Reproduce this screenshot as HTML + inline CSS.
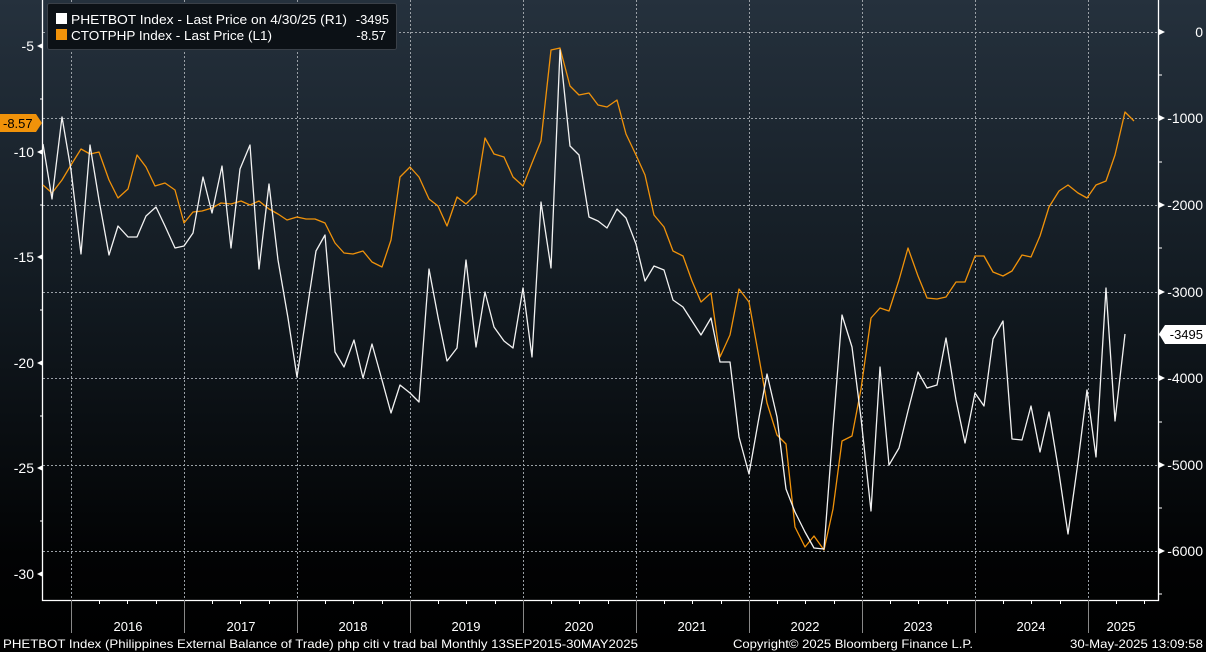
<!DOCTYPE html>
<html><head><meta charset="utf-8"><style>
html,body{margin:0;padding:0;background:#000;}
svg{display:block;font-family:"Liberation Sans",sans-serif;}
</style></head><body>
<svg width="1206" height="652" viewBox="0 0 1206 652" xmlns="http://www.w3.org/2000/svg">
<defs>
<linearGradient id="bg" x1="0" y1="0" x2="0" y2="1">
<stop offset="0" stop-color="#25313d"/>
<stop offset="0.45" stop-color="#121a21"/>
<stop offset="0.85" stop-color="#020304"/>
<stop offset="1" stop-color="#000"/>
</linearGradient>
</defs>
<rect width="1206" height="652" fill="url(#bg)"/>
<g stroke="#9aa0a6" stroke-width="1" stroke-dasharray="2,2" fill="none">
<line x1="43" y1="32.5" x2="1158" y2="32.5"/>
<line x1="43" y1="118.5" x2="1158" y2="118.5"/>
<line x1="43" y1="205.5" x2="1158" y2="205.5"/>
<line x1="43" y1="292.5" x2="1158" y2="292.5"/>
<line x1="43" y1="378.5" x2="1158" y2="378.5"/>
<line x1="43" y1="465.5" x2="1158" y2="465.5"/>
<line x1="43" y1="551.5" x2="1158" y2="551.5"/>
<line x1="71.5" y1="0" x2="71.5" y2="600"/>
<line x1="184.5" y1="0" x2="184.5" y2="600"/>
<line x1="297.5" y1="0" x2="297.5" y2="600"/>
<line x1="410.5" y1="0" x2="410.5" y2="600"/>
<line x1="523.5" y1="0" x2="523.5" y2="600"/>
<line x1="636.5" y1="0" x2="636.5" y2="600"/>
<line x1="749.5" y1="0" x2="749.5" y2="600"/>
<line x1="862.5" y1="0" x2="862.5" y2="600"/>
<line x1="975.5" y1="0" x2="975.5" y2="600"/>
<line x1="1088.5" y1="0" x2="1088.5" y2="600"/>
</g>
<g stroke="#fff" stroke-width="1.3" fill="none">
<polyline points="42.5,0 42.5,600.5 1158.5,600.5 1158.5,0"/>
</g>
<g stroke="#fff" stroke-width="1">
<line x1="38" y1="46" x2="43" y2="46"/><line x1="38" y1="152" x2="43" y2="152"/><line x1="38" y1="257" x2="43" y2="257"/><line x1="38" y1="363" x2="43" y2="363"/><line x1="38" y1="468" x2="43" y2="468"/><line x1="38" y1="574" x2="43" y2="574"/>
<line x1="40" y1="99" x2="43" y2="99"/><line x1="40" y1="205" x2="43" y2="205"/><line x1="40" y1="310" x2="43" y2="310"/><line x1="40" y1="416" x2="43" y2="416"/><line x1="40" y1="521" x2="43" y2="521"/>
<line x1="1158" y1="75" x2="1162" y2="75"/><line x1="1158" y1="162" x2="1162" y2="162"/><line x1="1158" y1="248" x2="1162" y2="248"/><line x1="1158" y1="335" x2="1162" y2="335"/><line x1="1158" y1="422" x2="1162" y2="422"/><line x1="1158" y1="508" x2="1162" y2="508"/><line x1="1158" y1="594" x2="1162" y2="594"/>
</g>
<g fill="#fff">
<polygon points="37,46 43,43 43,49"/><polygon points="37,152 43,149 43,155"/><polygon points="37,257 43,254 43,260"/><polygon points="37,363 43,360 43,366"/><polygon points="37,468 43,465 43,471"/><polygon points="37,574 43,571 43,577"/>
<polygon points="1165,32 1159,29 1159,35"/><polygon points="1165,118 1159,115 1159,121"/><polygon points="1165,205 1159,202 1159,208"/><polygon points="1165,292 1159,289 1159,295"/><polygon points="1165,378 1159,375 1159,381"/><polygon points="1165,465 1159,462 1159,468"/><polygon points="1165,551 1159,548 1159,554"/>
</g>
<g fill="#fff" font-size="14" text-anchor="end">
<text x="34" y="51">-5</text><text x="34" y="157">-10</text><text x="34" y="262">-15</text><text x="34" y="368">-20</text><text x="34" y="473">-25</text><text x="34" y="579">-30</text>
</g>
<g fill="#fff" font-size="14" text-anchor="end">
<text x="1203" y="37">0</text><text x="1203" y="123">-1000</text><text x="1203" y="210">-2000</text><text x="1203" y="297">-3000</text><text x="1203" y="383">-4000</text><text x="1203" y="470">-5000</text><text x="1203" y="556">-6000</text>
</g>
<g stroke="#fff" stroke-width="1">
<line x1="99.5" y1="600" x2="99.5" y2="604"/><line x1="127.5" y1="600" x2="127.5" y2="604"/><line x1="156.5" y1="600" x2="156.5" y2="604"/>
<line x1="212.5" y1="600" x2="212.5" y2="604"/><line x1="240.5" y1="600" x2="240.5" y2="604"/><line x1="269.5" y1="600" x2="269.5" y2="604"/>
<line x1="325.5" y1="600" x2="325.5" y2="604"/><line x1="353.5" y1="600" x2="353.5" y2="604"/><line x1="382.5" y1="600" x2="382.5" y2="604"/>
<line x1="438.5" y1="600" x2="438.5" y2="604"/><line x1="466.5" y1="600" x2="466.5" y2="604"/><line x1="495.5" y1="600" x2="495.5" y2="604"/>
<line x1="551.5" y1="600" x2="551.5" y2="604"/><line x1="579.5" y1="600" x2="579.5" y2="604"/><line x1="608.5" y1="600" x2="608.5" y2="604"/>
<line x1="664.5" y1="600" x2="664.5" y2="604"/><line x1="692.5" y1="600" x2="692.5" y2="604"/><line x1="721.5" y1="600" x2="721.5" y2="604"/>
<line x1="777.5" y1="600" x2="777.5" y2="604"/><line x1="805.5" y1="600" x2="805.5" y2="604"/><line x1="834.5" y1="600" x2="834.5" y2="604"/>
<line x1="890.5" y1="600" x2="890.5" y2="604"/><line x1="918.5" y1="600" x2="918.5" y2="604"/><line x1="947.5" y1="600" x2="947.5" y2="604"/>
<line x1="1003.5" y1="600" x2="1003.5" y2="604"/><line x1="1031.5" y1="600" x2="1031.5" y2="604"/><line x1="1060.5" y1="600" x2="1060.5" y2="604"/>
<line x1="1116.5" y1="600" x2="1116.5" y2="604"/><line x1="1144.5" y1="600" x2="1144.5" y2="604"/>
</g>
<g stroke="#888" stroke-width="1">
<line x1="71.5" y1="600" x2="71.5" y2="633"/><line x1="184.5" y1="600" x2="184.5" y2="633"/><line x1="297.5" y1="600" x2="297.5" y2="633"/><line x1="410.5" y1="600" x2="410.5" y2="633"/><line x1="523.5" y1="600" x2="523.5" y2="633"/><line x1="636.5" y1="600" x2="636.5" y2="633"/><line x1="749.5" y1="600" x2="749.5" y2="633"/><line x1="862.5" y1="600" x2="862.5" y2="633"/><line x1="975.5" y1="600" x2="975.5" y2="633"/><line x1="1088.5" y1="600" x2="1088.5" y2="633"/>
</g>
<g fill="#fff" font-size="13" text-anchor="middle">
<text x="128" y="631">2016</text><text x="241" y="631">2017</text><text x="353" y="631">2018</text><text x="466" y="631">2019</text><text x="579" y="631">2020</text><text x="692" y="631">2021</text><text x="805" y="631">2022</text><text x="918" y="631">2023</text><text x="1031" y="631">2024</text><text x="1121" y="631">2025</text>
</g>
<polyline fill="none" stroke="#f0920a" stroke-width="1.3" stroke-linejoin="round" points="43,185 52,193 62,180 71,165 81,149 90,154 99,152 109,180 118,198 128,189 137,155 146,167 155,186 165,183 175,190 184,223 193,212 202,211 212,208 221,203 231,204 241,201 250,205 259,201 269,209 278,214 287,220 297,217 306,219 315,219 325,223 335,243 344,253 353,254 363,251 372,262 382,267 391,240 400,177 410,167 419,177 429,199 438,206 447,226 457,197 466,204 476,194 485,138 494,154 504,157 513,177 523,186 532,163 541,141 551,50 560,48 570,86 579,95 589,93 598,105 607,107 617,100 626,134 636,155 645,175 654,215 664,227 673,251 683,256 692,281 701,302 711,293 720,357 730,335 739,289 749,302 758,352 767,403 777,435 786,444 795,527 805,547 814,536 824,550 833,509 842,441 852,436 861,389 871,318 880,308 889,311 899,280 908,248 918,276 927,298 937,299 946,297 956,282 965,282 975,256 984,256 993,272 1003,276 1012,271 1022,255 1031,257 1040,236 1049,207 1059,191 1068,185 1078,193 1087,198 1096,185 1106,181 1115,155 1125,112 1134,121"/>
<polyline fill="none" stroke="#f2f2f2" stroke-width="1.3" stroke-linejoin="round" points="43,144 52,199 62,117 71,170 81,254 90,145 99,200 109,255 118,226 128,237 137,237 146,216 156,207 165,226 175,248 184,246 193,233 203,177 212,213 222,166 231,248 240,169 250,145 259,269 269,184 278,260 288,318 297,377 307,310 316,251 325,235 335,352 344,367 354,340 363,378 372,344 382,380 391,413 400,385 410,393 419,402 429,269 438,317 447,361 457,348 466,260 476,347 485,292 494,327 504,341 513,348 523,288 532,357 541,202 551,268 560,50 570,146 579,155 589,217 598,221 607,228 617,209 626,218 636,244 645,281 654,266 664,270 673,300 683,307 692,321 701,335 711,318 720,362 730,362 739,437 749,474 758,423 767,374 777,417 786,489 795,512 805,532 814,548 824,549 833,429 842,315 852,347 861,418 871,511 880,367 889,465 899,448 908,411 918,372 927,388 937,385 946,338 956,400 965,443 975,393 984,406 993,339 1003,321 1012,439 1022,440 1031,406 1040,452 1049,412 1059,473 1068,534 1078,462 1087,390 1096,457 1106,288 1115,421 1125,334"/>
<rect x="47.5" y="3.5" width="349" height="46" rx="2" fill="#0c1116" stroke="#3a4048"/>
<rect x="56" y="13" width="11" height="11" fill="#fff"/>
<rect x="56" y="29" width="11" height="11" fill="#f0920a"/>
<g fill="#fff" font-size="13">
<text x="71" y="24" textLength="276" lengthAdjust="spacingAndGlyphs">PHETBOT Index - Last Price on 4/30/25 (R1)</text>
<text x="389" y="24" text-anchor="end">-3495</text>
<text x="71" y="40" textLength="201" lengthAdjust="spacingAndGlyphs">CTOTPHP Index - Last Price (L1)</text>
<text x="386" y="40" text-anchor="end">-8.57</text>
</g>
<polygon points="0,114 36,114 42,123 36,132 0,132" fill="#f0920a"/>
<text x="3" y="128" font-size="13" fill="#000">-8.57</text>
<polygon points="1159,334 1165,325 1206,325 1206,344 1165,344" fill="#fff"/>
<text x="1203" y="339" font-size="13" fill="#000" text-anchor="end">-3495</text>
<g fill="#fff" font-size="12">
<text x="3" y="648" textLength="635" lengthAdjust="spacingAndGlyphs">PHETBOT Index (Philippines External Balance of Trade) php citi v trad bal  Monthly 13SEP2015-30MAY2025</text>
<text x="733" y="648" textLength="240" lengthAdjust="spacingAndGlyphs">Copyright© 2025 Bloomberg Finance L.P.</text>
<text x="1070" y="648" textLength="133" lengthAdjust="spacingAndGlyphs">30-May-2025 13:09:58</text>
</g>
</svg>
</body></html>
